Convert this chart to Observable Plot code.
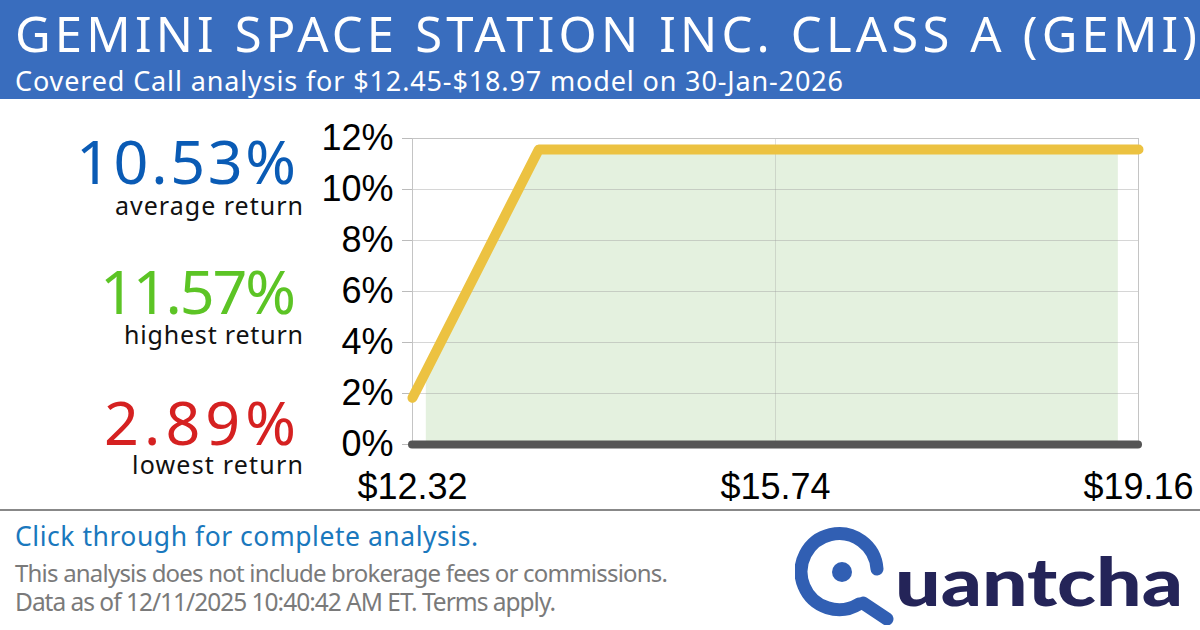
<!DOCTYPE html>
<html>
<head>
<meta charset="utf-8">
<script src="https://cdn.jsdelivr.net/npm/d3@7"></script>
<script src="https://cdn.jsdelivr.net/npm/@observablehq/plot@0.6"></script>
<style>
  html, body { margin: 0; padding: 0; }
  body { width: 1200px; height: 630px; overflow: hidden; position: relative; background: #fff; font-family: "Noto Sans", sans-serif; }
  #header { position: absolute; left: 0; top: 0; width: 1200px; height: 99px; background: #396dbe; overflow: hidden; }
  .t { position: absolute; white-space: nowrap; line-height: 1; }
  #title { left: 15px; top: 8.5px; color: #fff; font-size: 49px; }
  #subtitle { left: 15px; top: 67px; color: #fff; font-size: 27px; }
  #stats { position: absolute; left: 0; top: 0; width: 305px; height: 500px; }
  .big { font-size: 61px; }
  .lbl { font-size: 25px; color: #111; }
  #chart { position: absolute; left: 320px; top: 105px; }
  #sep { position: absolute; left: 0; top: 509px; width: 1200px; height: 2px; background: #888; }
  #click { left: 15px; top: 522.5px; font-size: 26.5px; color: #1a78bd; }
  #note1 { left: 15px; top: 561px; font-size: 24px; color: #7a7a7a; }
  #note2 { left: 15px; top: 589.5px; font-size: 24.5px; color: #7a7a7a; }
  #logo { position: absolute; left: 795px; top: 525px; }
</style>
</head>
<body>
<div id="header">
  <div id="title" class="t"></div>
  <div id="subtitle" class="t"></div>
</div>
<div id="stats"></div>
<div id="chart"></div>
<div id="sep"></div>
<div id="click" class="t">Click through for complete analysis.</div>
<div id="note1" class="t">This analysis does not include brokerage fees or commissions.</div>
<div id="note2" class="t">Data as of 12/11/2025 10:40:42 AM ET. Terms apply.</div>
<svg id="logo" width="400" height="100" viewBox="0 0 400 100">
  <path d="M 82 44 A 38 38 0 1 0 64 79" fill="none" stroke="#315fb3" stroke-width="13" stroke-linecap="round"/>
  <path d="M 68 78 L 92 94" fill="none" stroke="#315fb3" stroke-width="13" stroke-linecap="round"/>
  <circle cx="47" cy="47" r="10" fill="#315fb3"/>
  <text x="100" y="81" font-family="Lato, 'Noto Sans', sans-serif" font-weight="900" font-size="66" fill="#242458" textLength="288" lengthAdjust="spacingAndGlyphs">uantcha</text>
</svg>
<script>
// ---- data ----
const titleText = "GEMINI SPACE STATION INC. CLASS A (GEMI)";
const subtitleText = "Covered Call analysis for $12.45-$18.97 model on 30-Jan-2026";
const statValues = ["10.53%", "11.57%", "2.89%"];
const statLabels = ["average return", "highest return", "lowest return"];
const prices = [12.32, 12.45, 13.51, 18.97, 19.16];
const returns = [1.83, 2.89, 11.57, 11.57, 11.57];
const modelRange = [12.45, 18.97];
const xTicks = [12.32, 15.74, 19.16];
const yTicks = [0, 2, 4, 6, 8, 10, 12];

// ---- text fitting (match reference visible text widths via letter-spacing) ----
function fitWidth(el, visible) {
  el.style.letterSpacing = "0px";
  const w = el.getBoundingClientRect().width;
  const n = el.textContent.length;
  // visible width = w + n*ls - ls  (trailing spacing after the last glyph is invisible)
  const ls = (visible - w) / (n - 1);
  el.style.letterSpacing = ls + "px";
  return ls;
}

// ---- header / stats ----
const titleEl = document.getElementById("title");
titleEl.textContent = titleText;
fitWidth(titleEl, 1182);
const subEl = document.getElementById("subtitle");
subEl.textContent = subtitleText;
fitWidth(subEl, 828);
fitWidth(document.getElementById("click"), 463);
fitWidth(document.getElementById("note1"), 653);
fitWidth(document.getElementById("note2"), 541);

const statColors = ["#0a5bb5", "#5cc425", "#d52121"];
const bigTops = [130, 260, 391];
const lblTops = [193, 322, 452];
const bigWidths = [220, 196, 192];
const lblWidths = [188, 179, 171];
const stats = document.getElementById("stats");
statValues.forEach((v, i) => {
  const b = document.createElement("div");
  b.className = "t big";
  b.style.top = bigTops[i] + "px";
  b.style.color = statColors[i];
  b.textContent = v;
  stats.appendChild(b);
  fitWidth(b, bigWidths[i]);
  b.style.left = (296 - bigWidths[i]) + "px";
  const l = document.createElement("div");
  l.className = "t lbl";
  l.style.top = lblTops[i] + "px";
  l.textContent = statLabels[i];
  stats.appendChild(l);
  fitWidth(l, lblWidths[i]);
  l.style.left = (303 - lblWidths[i]) + "px";
});

// ---- chart ----
const rows = prices.map((p, i) => ({price: p, ret: returns[i]}));
const areaRows = rows.filter(d => d.price >= modelRange[0] && d.price <= modelRange[1]);

const chart = Plot.plot({
  width: 880,
  height: 420,
  marginLeft: 92,
  marginRight: 62,
  marginTop: 33,
  marginBottom: 81,
  style: {fontFamily: "'Liberation Sans', Arial, sans-serif", fontSize: "36px", color: "#000", background: "transparent", overflow: "visible"},
  x: {domain: [xTicks[0], xTicks[xTicks.length - 1]]},
  y: {domain: [0, 12]},
  marks: [
    Plot.areaY(areaRows, {x: "price", y: "ret", fill: "#e4f1df"}),
    Plot.ruleY(yTicks, {stroke: "#999", strokeOpacity: 0.4, x1: xTicks[0], x2: xTicks[2]}),
    Plot.ruleX([xTicks[1]], {stroke: "#999", strokeOpacity: 0.3}),
    Plot.frame({stroke: "#c4c4c4"}),
    Plot.axisY({ticks: yTicks, tickFormat: d => d + "%", tickSize: 10, tickPadding: 9, fontSize: 36, stroke: "#bbb", label: null}),
    Plot.axisX({ticks: xTicks, tickFormat: d => "$" + d.toFixed(2), tickSize: 0, tickPadding: 29, fontSize: 36, label: null}),
    Plot.ruleY([0], {stroke: "#555", strokeWidth: 8, strokeLinecap: "round", x1: xTicks[0], x2: xTicks[2]}),
    Plot.line(rows, {x: "price", y: "ret", stroke: "#ecc241", strokeWidth: 10, strokeLinecap: "round", strokeLinejoin: "round"})
  ]
});
document.getElementById("chart").appendChild(chart);
</script>
</body>
</html>
